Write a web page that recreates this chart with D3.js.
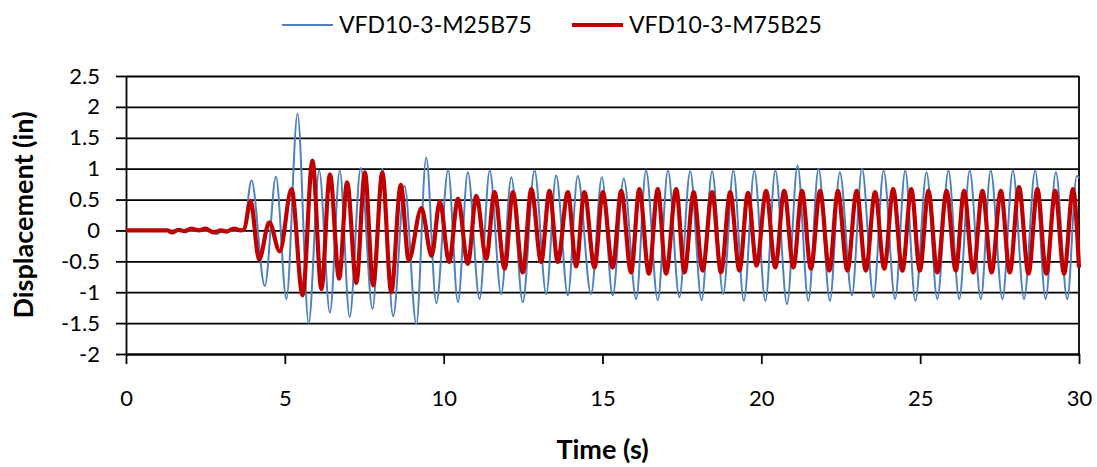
<!DOCTYPE html>
<html>
<head>
<meta charset="utf-8">
<script src="https://cdn.jsdelivr.net/npm/d3@7"></script>
<style>
  body { margin: 0; background: #fff; }
  svg text { font-family: Lato, "Open Sans", sans-serif; fill: #000; }
</style>
</head>
<body>
<div id="chart"></div>
<script>
// axis ticks
const xTicks = [0, 5, 10, 15, 20, 25, 30];
const yTicks = [-2, -1.5, -1, -0.5, 0, 0.5, 1, 1.5, 2, 2.5];
const seriesNames = ["VFD10-3-M25B75", "VFD10-3-M75B25"];

// [time (s), displacement (in)] read at the peaks / troughs of each trace
const m25b75 = [
  [0, 0], [2.6, 0], [2.85, -0.06], [3.1, 0], [3.7, 0],
  [3.95, 0.81], [4.37, -0.9], [4.72, 0.87], [5.05, -1.11], [5.4, 1.89], [5.75, -1.5],
  [6.08, 0.97], [6.42, -1.33], [6.73, 0.97], [7.04, -1.4], [7.39, 1.01], [7.76, -1.27],
  [8.07, 1.0], [8.41, -1.39], [8.77, 0.72], [9.14, -1.52], [9.45, 1.18], [9.77, -1.18],
  [10.14, 0.98], [10.45, -1.16], [10.76, 0.94], [11.13, -1.11], [11.45, 0.97], [11.81, -1.03],
  [12.13, 0.86], [12.49, -1.16], [12.86, 0.97], [13.23, -1.03], [13.54, 0.89], [13.91, -1.05],
  [14.22, 0.88], [14.64, -1.03], [14.98, 0.86], [15.32, -1.05], [15.67, 0.84], [16.06, -1.11],
  [16.37, 0.97], [16.74, -1.13], [17.06, 0.97], [17.42, -1.08], [17.76, 0.96], [18.12, -1.13],
  [18.45, 0.96], [18.8, -1.03], [19.12, 0.97], [19.45, -1.14], [19.78, 0.97], [20.13, -1.14],
  [20.44, 0.97], [20.81, -1.19], [21.14, 1.05], [21.48, -1.14], [21.8, 1.0], [22.16, -1.14],
  [22.47, 0.94], [22.85, -1.05], [23.17, 1.0], [23.53, -1.08], [23.85, 0.97], [24.21, -1.11],
  [24.53, 0.97], [24.85, -1.14], [25.2, 0.94], [25.54, -1.11], [25.89, 0.97], [26.23, -1.11],
  [26.56, 0.97], [26.91, -1.11], [27.22, 0.97], [27.59, -1.11], [27.92, 0.97], [28.27, -1.11],
  [28.62, 0.97], [28.95, -1.11], [29.27, 0.94], [29.63, -1.11], [29.93, 0.88], [30, 0.85]
];

const m75b25 = [
  [0, 0], [1.3, 0], [1.45, -0.03], [1.65, 0.01], [1.85, -0.01], [2.05, 0.03], [2.3, 0],
  [2.5, 0.03], [2.75, -0.03], [3.0, 0], [3.15, -0.02], [3.4, 0.03], [3.6, 0], [3.72, 0.02],
  [3.92, 0.48], [4.19, -0.47], [4.51, 0.13], [4.84, -0.34], [5.21, 0.67], [5.56, -1.05],
  [5.87, 1.13], [6.15, -0.95], [6.42, 0.91], [6.71, -0.78], [6.96, 0.78], [7.25, -0.85],
  [7.52, 0.94], [7.78, -0.89], [8.07, 0.94], [8.35, -1.0], [8.65, 0.74], [8.9, -0.48],
  [9.3, 0.36], [9.62, -0.41], [9.88, 0.47], [10.17, -0.51], [10.45, 0.51], [10.76, -0.54],
  [11.03, 0.56], [11.34, -0.46], [11.6, 0.62], [11.92, -0.62], [12.18, 0.62], [12.49, -0.68],
  [12.76, 0.67], [13.07, -0.51], [13.33, 0.64], [13.59, -0.51], [13.91, 0.62], [14.17, -0.58],
  [14.43, 0.62], [14.75, -0.6], [15.01, 0.62], [15.32, -0.6], [15.59, 0.64], [15.9, -0.68],
  [16.16, 0.67], [16.46, -0.7], [16.74, 0.67], [17.0, -0.7], [17.32, 0.67], [17.58, -0.68],
  [17.87, 0.62], [18.15, -0.65], [18.45, 0.62], [18.73, -0.68], [19.02, 0.62], [19.31, -0.65],
  [19.58, 0.61], [19.85, -0.57], [20.15, 0.64], [20.44, -0.6], [20.72, 0.64], [21.01, -0.6],
  [21.28, 0.64], [21.56, -0.62], [21.85, 0.64], [22.14, -0.65], [22.41, 0.64], [22.71, -0.65],
  [23.0, 0.64], [23.29, -0.65], [23.58, 0.62], [23.87, -0.62], [24.15, 0.67], [24.44, -0.65],
  [24.72, 0.67], [24.99, -0.65], [25.26, 0.64], [25.54, -0.68], [25.83, 0.64], [26.12, -0.65],
  [26.38, 0.64], [26.67, -0.68], [26.96, 0.64], [27.25, -0.68], [27.54, 0.64], [27.82, -0.68],
  [28.11, 0.7], [28.41, -0.7], [28.69, 0.67], [28.97, -0.7], [29.25, 0.64], [29.53, -0.7],
  [29.81, 0.67], [30, -0.6]
];

const margin = { top: 76, right: 18, bottom: 113, left: 126 };
const width = 1097 - margin.left - margin.right;
const height = 467 - margin.top - margin.bottom;

const svg = d3.select("#chart").append("svg")
  .attr("width", 1097)
  .attr("height", 467);

const g = svg.append("g")
  .attr("transform", `translate(${margin.left},${margin.top})`);

const x = d3.scaleLinear().domain([0, 30]).range([0, width]);
const y = d3.scaleLinear().domain([-2, 2.5]).range([height, 0]);

// horizontal gridlines
g.append("g")
  .attr("class", "grid")
  .call(d3.axisLeft(y).tickValues(yTicks).tickSize(-width).tickFormat(""))
  .call(s => s.select(".domain").remove())
  .selectAll("line")
  .attr("stroke", "#000")
  .attr("stroke-width", 1.8);

// right border of the plot area
g.append("line")
  .attr("x1", width).attr("x2", width)
  .attr("y1", 0).attr("y2", height)
  .attr("stroke", "#000")
  .attr("stroke-width", 1.8);

// axes
const xAxis = g.append("g")
  .attr("transform", `translate(0,${height})`)
  .call(d3.axisBottom(x).tickValues(xTicks).tickSize(10).tickSizeOuter(0).tickPadding(26));

const yAxis = g.append("g")
  .call(d3.axisLeft(y).tickValues(yTicks).tickSize(10).tickSizeOuter(0).tickPadding(16)
    .tickFormat(d => String(d)));

[xAxis, yAxis].forEach(a => {
  a.selectAll("path, line").attr("stroke", "#000").attr("stroke-width", 1.8);
  a.selectAll("text")
    .attr("font-family", "Lato, 'Open Sans', sans-serif")
    .attr("font-size", 22)
    .attr("fill", "#000");
});

// series
const line = d3.line()
  .x(d => x(d[0]))
  .y(d => y(d[1]))
  .curve(d3.curveMonotoneX);

const series = [
  { name: seriesNames[0], values: m25b75, color: "#4f81bd", width: 2 },
  { name: seriesNames[1], values: m75b25, color: "#c00000", width: 4.2 }
];

g.selectAll(".series")
  .data(series)
  .enter().append("path")
  .attr("class", "series")
  .attr("d", d => line(d.values))
  .attr("fill", "none")
  .attr("stroke", d => d.color)
  .attr("stroke-width", d => d.width)
  .attr("stroke-linejoin", "round");

// axis titles
svg.append("text")
  .attr("x", margin.left + width / 2)
  .attr("y", 459)
  .attr("text-anchor", "middle")
  .style("font-size", "27px")
  .style("font-weight", "bold")
  .text("Time (s)");

svg.append("text")
  .attr("transform", `translate(33,${margin.top + height / 2}) rotate(-90)`)
  .attr("text-anchor", "middle")
  .style("font-size", "27px")
  .style("font-weight", "bold")
  .text("Displacement (in)");

// legend
const legendX = [282, 572];
const legend = svg.selectAll(".legend-item")
  .data(series)
  .enter().append("g")
  .attr("class", "legend-item")
  .attr("transform", (d, i) => `translate(${legendX[i]},25)`);

legend.append("line")
  .attr("x1", 0).attr("x2", 51)
  .attr("stroke", d => d.color)
  .attr("stroke-width", d => d.width);

legend.append("text")
  .attr("x", 57)
  .attr("y", 8)
  .style("font-size", "23px")
  .text(d => d.name);
</script>
</body>
</html>
